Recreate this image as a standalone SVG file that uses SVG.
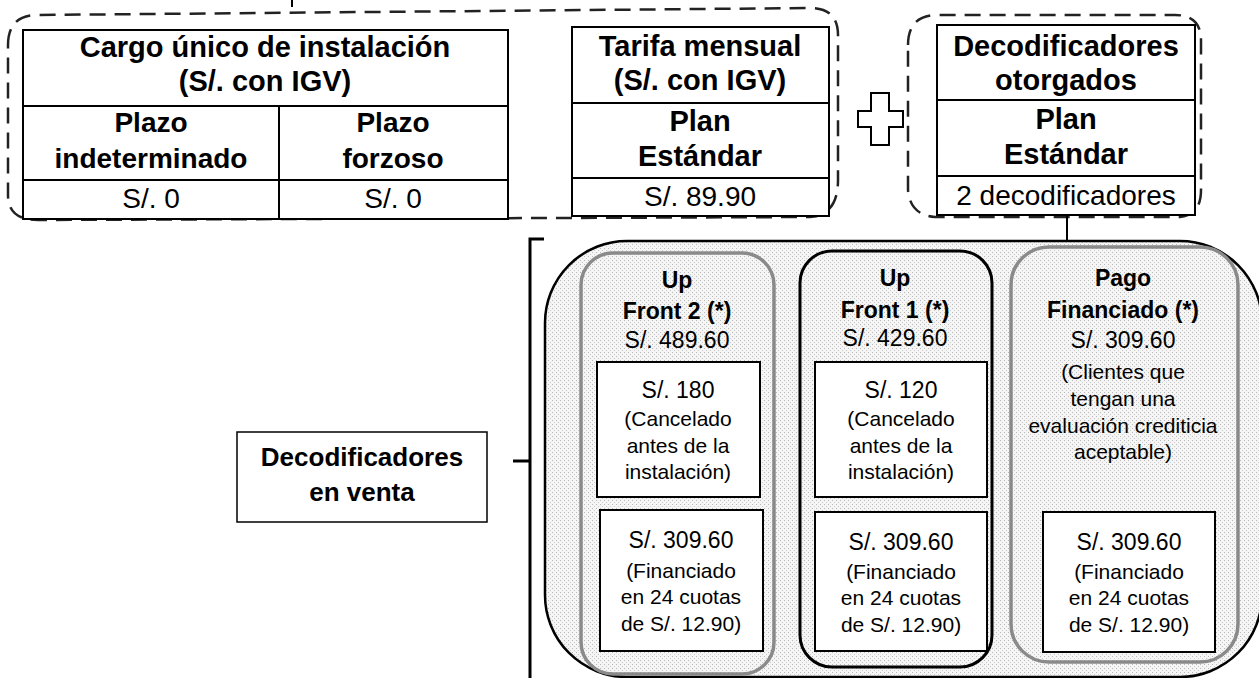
<svg xmlns="http://www.w3.org/2000/svg" width="1259" height="678" viewBox="0 0 1259 678">
<defs>
<pattern id="dots" width="4" height="4" patternUnits="userSpaceOnUse">
<rect width="4" height="4" fill="#f5f5f5"/>
<rect x="0" y="0" width="1" height="1" fill="#b8b8b8"/>
<rect x="2" y="2" width="1" height="1" fill="#cacaca"/>
</pattern>
</defs>
<style>
.t{font-family:"Liberation Sans",Arial,sans-serif;fill:#000;text-anchor:middle}
.b{font-weight:bold}
.h{font-size:29px}
.r{font-size:28px}
.p{font-size:23px}
.d{font-size:21px}
.cell{fill:#fff;stroke:#000;stroke-width:2}
.ln{stroke:#000;stroke-width:2}
.dash{fill:none;stroke:#222;stroke-width:2.5;stroke-dasharray:16 9}
.box{fill:#fff;stroke:#000;stroke-width:2}
</style>
<g id="group-dashed">
<path class="dash" d="M 8,45 Q 8,15 38,15 L 810,8 Q 838,8 838,35 L 838,180 Q 838,215 810,217 L 38,220 Q 8,220 8,195 Z"/>
<path class="dash" d="M 908,45 Q 908,15 938,15 L 1175,15 Q 1201,15 1201,40 L 1201,190 Q 1201,215 1180,217 L 935,217 Q 910,215 908,190 Z"/>
<line x1="292" y1="0" x2="292" y2="7" class="ln"/>
</g>
<g id="cargo-unico">
<rect class="cell" x="23" y="30" width="485" height="189"/>
<line class="ln" x1="23" y1="106" x2="508" y2="106"/>
<line class="ln" x1="23" y1="180" x2="508" y2="180"/>
<line class="ln" x1="279" y1="106" x2="279" y2="219"/>
<text class="t b h" x="265" y="57">Cargo único de instalación</text>
<text class="t b h" x="265" y="91">(S/. con IGV)</text>
<text class="t b r" x="151" y="132">Plazo</text>
<text class="t b r" x="151" y="168">indeterminado</text>
<text class="t b r" x="393" y="132">Plazo</text>
<text class="t b r" x="393" y="168">forzoso</text>
<text class="t r" x="151" y="208">S/. 0</text>
<text class="t r" x="393" y="208">S/. 0</text>
</g>
<g id="tarifa-mensual">
<rect class="cell" x="572" y="27" width="257" height="189"/>
<line class="ln" x1="572" y1="103" x2="829" y2="103"/>
<line class="ln" x1="572" y1="178" x2="829" y2="178"/>
<text class="t b h" x="700" y="56">Tarifa mensual</text>
<text class="t b h" x="700" y="90">(S/. con IGV)</text>
<text class="t b h" x="700" y="131">Plan</text>
<text class="t b h" x="700" y="166">Estándar</text>
<text class="t r" x="700" y="206">S/. 89.90</text>
</g>
<g id="plus">
<path d="M 871,93 H 889 V 111 H 903 V 127 H 889 V 145 H 871 V 127 H 858 V 111 H 871 Z" fill="#fff" stroke="#000" stroke-width="2"/>
</g>
<g id="decos-otorgados">
<rect class="cell" x="937" y="25" width="258" height="190"/>
<line class="ln" x1="937" y1="100" x2="1195" y2="100"/>
<line class="ln" x1="937" y1="176" x2="1195" y2="176"/>
<text class="t b h" x="1066" y="56">Decodificadores</text>
<text class="t b h" x="1066" y="90">otorgados</text>
<text class="t b h" x="1066" y="129">Plan</text>
<text class="t b h" x="1066" y="164">Estándar</text>
<text class="t r" x="1066" y="205">2 decodificadores</text>
</g>
<g id="connectors">
<line class="ln" x1="1067" y1="215" x2="1067" y2="241"/>
<path d="M 544,239 L 530,239 L 530,678" fill="none" stroke="#000" stroke-width="3"/>
<line x1="513" y1="461" x2="530" y2="461" stroke="#000" stroke-width="3"/>
</g>
<g id="decos-venta">
<rect x="237" y="432" width="250" height="90" fill="#fff" stroke="#000" stroke-width="1.5"/>
<text class="t b" style="font-size:26px" x="362" y="466">Decodificadores</text>
<text class="t b" style="font-size:26px" x="362" y="501">en venta</text>
</g>
<g id="panel">
<rect x="545" y="241" width="717" height="436" rx="82" fill="url(#dots)" stroke="#000" stroke-width="2.5"/>
</g>
<g id="up-front-2">
<rect x="581" y="253" width="193" height="421" rx="32" fill="none" stroke="#8a8a8a" stroke-width="3.5"/>
<text class="t b p" x="677" y="288">Up</text>
<text class="t b p" x="677" y="319">Front 2 (*)</text>
<text class="t p" x="677" y="348">S/. 489.60</text>
<rect class="box" x="597" y="362" width="163" height="135"/>
<text class="t p" x="678" y="398">S/. 180</text>
<text class="t d" x="678" y="426">(Cancelado</text>
<text class="t d" x="678" y="453">antes de la</text>
<text class="t d" x="678" y="479">instalación)</text>
<rect class="box" x="600" y="510" width="163" height="141"/>
<text class="t p" x="681" y="548">S/. 309.60</text>
<text class="t d" x="681" y="578">(Financiado</text>
<text class="t d" x="681" y="604">en 24 cuotas</text>
<text class="t d" x="681" y="631">de S/. 12.90)</text>
</g>
<g id="up-front-1">
<rect x="800" y="251" width="192" height="416" rx="32" fill="none" stroke="#000" stroke-width="3"/>
<text class="t b p" x="895" y="286">Up</text>
<text class="t b p" x="895" y="318">Front 1 (*)</text>
<text class="t p" x="895" y="346">S/. 429.60</text>
<rect class="box" x="815" y="362" width="172" height="135"/>
<text class="t p" x="901" y="398">S/. 120</text>
<text class="t d" x="901" y="426">(Cancelado</text>
<text class="t d" x="901" y="453">antes de la</text>
<text class="t d" x="901" y="479">instalación)</text>
<rect class="box" x="815" y="512" width="172" height="139"/>
<text class="t p" x="901" y="550">S/. 309.60</text>
<text class="t d" x="901" y="579">(Financiado</text>
<text class="t d" x="901" y="605">en 24 cuotas</text>
<text class="t d" x="901" y="632">de S/. 12.90)</text>
</g>
<g id="pago-financiado">
<rect x="1011" y="247" width="227" height="415" rx="38" fill="none" stroke="#8a8a8a" stroke-width="3.5"/>
<text class="t b p" x="1123" y="286">Pago</text>
<text class="t b p" x="1123" y="318">Financiado (*)</text>
<text class="t p" x="1123" y="348">S/. 309.60</text>
<text class="t d" x="1123" y="379">(Clientes que</text>
<text class="t d" x="1123" y="406">tengan una</text>
<text class="t d" x="1123" y="433">evaluación crediticia</text>
<text class="t d" x="1123" y="459">aceptable)</text>
<rect class="box" x="1043" y="512" width="172" height="140"/>
<text class="t p" x="1129" y="550">S/. 309.60</text>
<text class="t d" x="1129" y="579">(Financiado</text>
<text class="t d" x="1129" y="605">en 24 cuotas</text>
<text class="t d" x="1129" y="632">de S/. 12.90)</text>
</g>
</svg>
